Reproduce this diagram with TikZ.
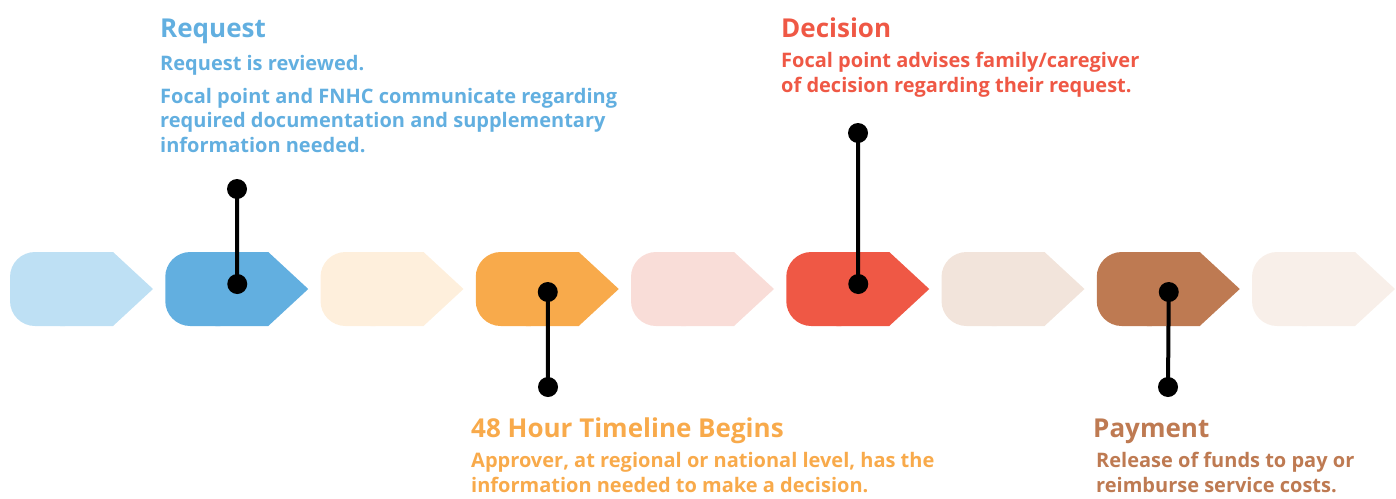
\documentclass[tikz,border=0pt]{standalone}
\usepackage{fontspec}
\setmainfont{Open Sans}
\usepackage{xcolor}
\definecolor{stepA}{HTML}{BEE0F4}
\definecolor{stepB}{HTML}{62AFE0}
\definecolor{stepC}{HTML}{FEEFDC}
\definecolor{stepD}{HTML}{F8AA4B}
\definecolor{stepE}{HTML}{F9DDD8}
\definecolor{stepF}{HTML}{EF5845}
\definecolor{stepG}{HTML}{F2E4DB}
\definecolor{stepH}{HTML}{BE7A52}
\definecolor{stepI}{HTML}{F8EFE9}
\usetikzlibrary{positioning}
\tikzset{
    pin/.style={
        line width=4pt,
        color=black
    },
    pindot/.style={
        circle,
        fill=black,
        inner sep=0pt,
        minimum size=20pt
    },
    title/.style={
        anchor=base west,
        inner sep=0pt,
        font=\fontsize{26}{30}\selectfont\bfseries
    },
    body/.style={
        anchor=base west,
        inner sep=0pt,
        align=left,
        font=\fontsize{20}{24.5}\selectfont\bfseries
    }
}

\begin{document}
\begin{tikzpicture}[x=1pt,y=-1pt]
    \useasboundingbox (0,0) rectangle (1396,498);

    % Chevron steps
    \foreach \col [count=\i] in {stepA,stepB,stepC,stepD,stepE,stepF,stepG,stepH,stepI}{
        \pgfmathsetmacro{\xo}{10+155.25*(\i-1)}
        \fill[\col, rounded corners=25pt] (\xo,252) rectangle ++(80,74);
        \fill[\col] (\xo+50,252) -- ++(53,0) -- ++(40,37) -- ++(-40,37) -- ++(-53,0) -- cycle;
        \coordinate (step\i) at (\xo+72,289);
    }

    % Pins
    \node[pindot] (reqdot) at ([yshift=5pt]step2) {};
    \node[pindot] (reqend) at (237,189) {};
    \node[pindot] (timedot) at ([yshift=-3pt]step4) {};
    \node[pindot] (timeend) at (548,387) {};
    \node[pindot] (decdot) at ([yshift=5pt]step6) {};
    \node[pindot] (decend) at (858,133) {};
    \node[pindot] (paydot) at ([yshift=-3pt]step8) {};
    \node[pindot] (payend) at (1168,387) {};
    \draw[pin] (reqdot.center) -- (reqend.center);
    \draw[pin] (timedot.center) -- (timeend.center);
    \draw[pin] (decdot.center) -- (decend.center);
    \draw[pin] (paydot.center) -- (payend.center);

    % Labels (body nodes sit on their last baseline)
    \node[title, text=stepB] (reqtitle) at (160,37) {Request};
    \node[body, text=stepB] (reqtext) at (160,152)
        {Request is reviewed.\\[8.5pt]Focal point and FNHC communicate regarding\\required documentation and supplementary\\information needed.};
    \node[title, text=stepF] (dectitle) at (781,37) {Decision};
    \node[body, text=stepF] (dectext) at (781,92)
        {Focal point advises family/caregiver\\of decision regarding their request.};
    \node[title, text=stepD] (timetitle) at (471,437) {48 Hour Timeline Begins};
    \node[body, text=stepD] (timetext) at (471,492)
        {Approver, at regional or national level, has the\\information needed to make a decision.};
    \node[title, text=stepH] (paytitle) at (1093,437) {Payment};
    \node[body, text=stepH] (paytext) at (1096,492)
        {Release of funds to pay or\\reimburse service costs.};
\end{tikzpicture}
\end{document}
